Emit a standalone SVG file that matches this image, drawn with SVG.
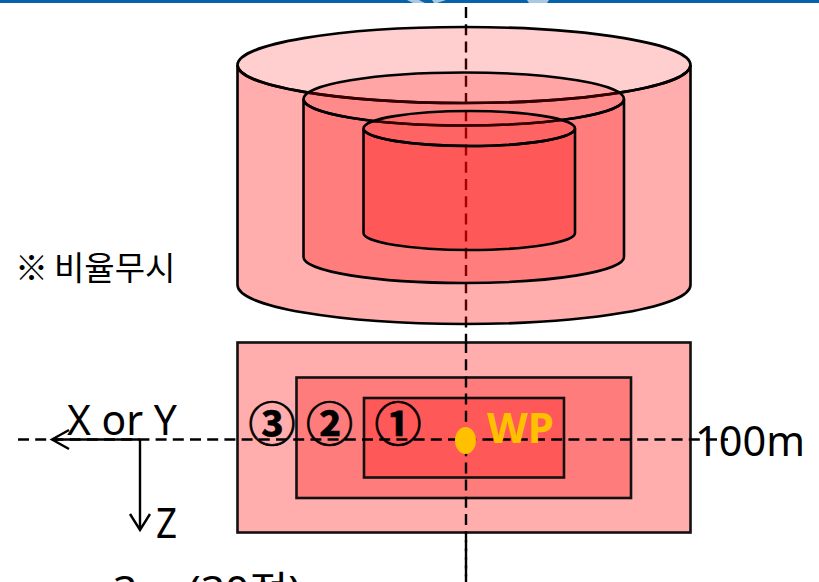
<svg xmlns="http://www.w3.org/2000/svg" width="819" height="582" viewBox="0 0 819 582">
<style>
.s{stroke:#000;stroke-width:2.6}
.r{stroke:#111;stroke-width:2.6}
.d{fill:none;stroke:#000;stroke-width:2.4;stroke-dasharray:11 6.2}
.a{fill:none;stroke:#000;stroke-width:2.4}
.t{font-family:"Noto Sans","Noto Sans CJK KR",sans-serif;fill:#000}
.c{font-family:"Noto Sans CJK KR",sans-serif;font-size:47px;font-weight:700;text-anchor:middle;fill:#000;stroke:#000;stroke-width:.7}
</style>
<rect id="banner" x="0" y="0" width="819" height="3" fill="#0563ab"/>
<path d="M407 0h12l6 3h-12zM432 0h14l-9 3h-3zM527 0h22l-2 3h-18z" fill="#a9c8e2"/>
<g id="connectors">
<path id="axis-v" class="d" d="M466 7V582"/>
</g>
<g id="cylinder-3">
<path class="s" fill="#ff0000" fill-opacity=".32" d="M237.500 65A226.500 38 0 0 0 690.500 65V285A226.500 39 0 0 1 237.500 285Z"/>
<ellipse class="s" cx="464" cy="65" rx="226.500" ry="38" fill="#ff0000" fill-opacity=".19"/>
</g>
<g id="cylinder-2">
<path class="s" fill="#ff0000" fill-opacity=".28" d="M303.500 99A160.250 26.500 0 0 0 624 99V257A160.250 26 0 0 1 303.500 257Z"/>
<ellipse class="s" cx="463.750" cy="99" rx="160.250" ry="26.500" fill="#ff0000" fill-opacity=".2"/>
</g>
<g id="cylinder-1">
<path class="s" fill="#ff0000" fill-opacity=".29" d="M363.500 128.500A105.750 17.500 0 0 0 575 128.500V233A105.750 17 0 0 1 363.500 233Z"/>
<ellipse class="s" cx="469.250" cy="128.500" rx="105.750" ry="17.500" fill="#ff0000" fill-opacity=".2"/>
</g>
<g id="zone-3"><rect class="r" x="237.500" y="342.500" width="453" height="190" fill="#ffadad"/></g>
<g id="zone-2"><rect class="r" x="296.500" y="377.500" width="334.500" height="120.500" fill="#ff7c7c"/></g>
<g id="zone-1"><rect class="r" x="364" y="398" width="200" height="79.500" fill="#ff5858"/></g>
<g id="labels">
<text class="t" x="67" y="435" font-size="41" textLength="110" lengthAdjust="spacingAndGlyphs">X or Y</text>
<text class="t" x="156" y="537.500" font-size="41" textLength="21" lengthAdjust="spacingAndGlyphs">Z</text>
<text class="t" x="695" y="456" font-size="41" textLength="110" lengthAdjust="spacingAndGlyphs">100m</text>
<text y="280" font-family="'Noto Sans CJK KR',sans-serif" font-size="33" fill="#000"><tspan x="15">※</tspan> <tspan x="54">비율무시</tspan></text>
<text class="t" x="113" y="606" font-size="41" textLength="188" lengthAdjust="spacingAndGlyphs">3m (30점)</text>
<text class="c" x="272" y="441">③</text>
<text class="c" x="329.500" y="441">②</text>
<text class="c" x="398" y="441">①</text>
</g>
<g id="connectors-lower">
<path class="d" d="M466 342V582"/>
<path id="axis-h" class="d" d="M18 439.500H728"/>
<path class="a" d="M140 439.500H53M69 430L52 439.500L69 449"/>
<path class="a" d="M140 439.500V530M130 514L140 530L150 514"/>
</g>
<g id="wp">
<ellipse cx="465.500" cy="440.500" rx="10.500" ry="13.500" fill="#ffc000"/>
<text x="487" y="443" font-family="'Noto Sans',sans-serif" font-weight="700" font-size="41" fill="#ffc000" textLength="67" lengthAdjust="spacingAndGlyphs">WP</text>
</g>
</svg>
